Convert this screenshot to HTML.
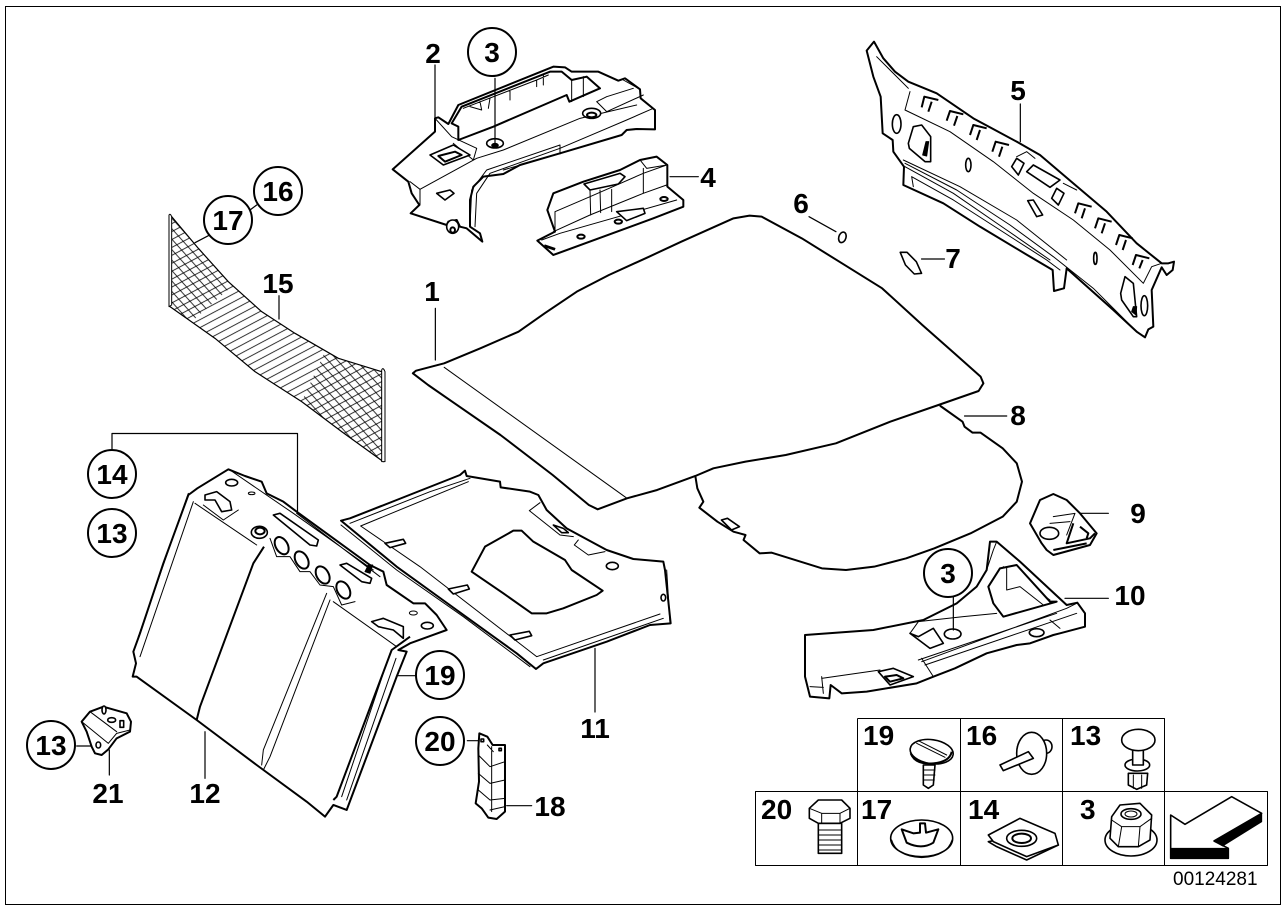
<!DOCTYPE html>
<html><head><meta charset="utf-8"><title>Diagram 00124281</title>
<style>
html,body{margin:0;padding:0;background:#fff;width:1287px;height:910px;overflow:hidden}
svg{display:block}
text{font-family:"Liberation Sans",sans-serif;font-weight:bold;font-size:28px;fill:#000;stroke:none;text-anchor:middle}
.o,.t,.l,.w,.b{vector-effect:non-scaling-stroke;stroke:#000;stroke-linejoin:round;stroke-linecap:round}
.o{fill:#fff;stroke-width:2}
.w{fill:#fff;stroke-width:1.6}
.h{fill:none;stroke:#000;stroke-width:2;vector-effect:non-scaling-stroke;stroke-linejoin:round}
.t{fill:none;stroke-width:1}
.l{fill:none;stroke-width:1.2}
.b{fill:#000;stroke-width:1}
.c{fill:#fff;stroke:#000;stroke-width:2}
</style></head><body>
<svg width="1287" height="910" viewBox="0 0 1287 910" xmlns="http://www.w3.org/2000/svg">
<defs>
<pattern id="p1" width="21" height="21" patternUnits="userSpaceOnUse" patternTransform="rotate(-28)"><line x1="0" y1="10" x2="21" y2="10" stroke="#000" stroke-width="2.4"/></pattern>
<pattern id="p2" width="21" height="21" patternUnits="userSpaceOnUse" patternTransform="rotate(48)"><line x1="0" y1="10" x2="21" y2="10" stroke="#000" stroke-width="2.4"/></pattern>
<clipPath id="netclip"><path d="M50 35L130 130L220 230L320 320L420 385L550 460L680 500L685 770L560 680L440 590L300 500L180 400L45 305Z"/></clipPath>
</defs>
<rect x="5.5" y="6.5" width="1275" height="898" fill="none" stroke="#000" stroke-width="1"/>

<!-- Part 8 + Part 1 -->
<g transform="translate(400,205) scale(.4018,.33333)">
<path class="o" d="M1345 603L1400 650L1405 665L1425 683L1445 683L1500 730L1535 775L1548 830L1535 890L1500 935L1420 985L1330 1030L1260 1060L1180 1085L1110 1095L1050 1090L925 1043L895 1045L855 1005L860 990L845 985L830 980L790 950L745 908L755 890L740 850L735 813"/>
<path class="w" d="M800 945L815 940L845 965L825 975Z"/>
<path class="o" d="M32 505L40 497L110 475L200 430L295 380L360 325L440 260L520 210L620 155L700 110L830 40L870 32L900 35L1000 100L1100 175L1200 250L1300 360L1380 445L1445 515L1452 535L1440 558L1340 600L1220 650L1085 715L960 750L860 770L780 790L735 813L640 855L565 880L492 913L470 900L380 810L250 690L130 590L70 540Z"/>
<path class="t" d="M110 487L565 880"/>
<path class="l" d="M88 310L88 465M1405 633L1510 633M1298 162L1355 162M1018 35L1085 80"/>
<ellipse class="w" cx="1101" cy="97" rx="9" ry="16" transform="rotate(12 1101 97)"/>
<path class="w" d="M1245 142L1262 142L1285 170L1298 205L1280 207L1258 180Z"/>
</g>

<!-- Part 2, 4 -->
<g transform="translate(380,30) scale(.33333)">
<path class="o" d="M165 265L175 262L205 282L235 225L520 110L555 112L575 125L655 125L715 152L735 145L780 178L782 205L825 240L825 298L770 297L740 300L725 315L540 370L420 405L370 432L310 440L280 470L270 510L270 590L300 610L307 635L260 595L240 590L230 570L205 575L200 585L92 550L118 525L95 490L85 455L38 418L165 305Z"/>
<path class="h" d="M245 230L215 280L235 290L235 330L340 290L560 195L568 215L660 175L620 140L575 150L545 125L510 125L245 230Z"/>
<path class="t" d="M90 455L120 478L120 525M120 478L290 385L370 360L600 265L770 225M270 590L275 480L320 420L540 345M285 590L290 490L330 430L540 355L740 270L820 235M370 420L540 370M540 345L540 372M250 235L470 150L505 135M270 230L305 240M300 215L305 240M330 205L325 235M390 180L390 210M470 150L470 170M490 135L490 165M165 265L215 320L290 355L280 390M220 340L280 390M575 150L575 215M610 140L610 200M680 200L650 215L680 245L790 195M680 200L760 175M730 150L780 178"/>
<path class="w" d="M150 375L220 345L270 375L190 405Z"/>
<path class="h" d="M175 378L225 365L245 375L195 395Z"/>
<path class="w" d="M170 490L210 480L222 490L195 510Z"/>
<ellipse class="w" cx="345" cy="340" rx="25" ry="14"/><ellipse class="b" cx="345" cy="346" rx="10" ry="6"/>
<ellipse class="w" cx="635" cy="250" rx="27" ry="15"/><ellipse class="h" cx="635" cy="255" rx="14" ry="7"/>
<ellipse class="w" cx="218" cy="590" rx="18" ry="20"/><ellipse class="h" cx="218" cy="600" rx="7" ry="8"/>
<path class="l" d="M165 105L165 265M345 145L345 340M870 440L955 440"/>
<!-- 4 -->
<path class="o" d="M472 632L525 605L502 540L520 490L610 455L720 420L780 390L830 380L862 405L862 470L910 510L910 530L820 565L520 675Z"/>
<path class="t" d="M525 605L525 545L630 500L790 430L860 405M780 390L800 415L860 405M790 415L790 490M630 480L632 555M660 480L662 548M695 478L695 545M520 605L630 555L790 490L860 465M485 630L540 610L890 510"/>
<path class="w" d="M612 462L720 430L735 440L715 462L630 480Z"/>
<path class="w" d="M710 545L790 535L795 550L740 572Z"/>
<ellipse class="h" cx="603" cy="620" rx="11" ry="6"/><ellipse class="h" cx="715" cy="575" rx="11" ry="6"/><ellipse class="h" cx="852" cy="507" rx="11" ry="6"/>
<path class="b" d="M495 645L525 655L523 660L493 650Z"/>
</g>

<!-- Part 5 -->
<g transform="translate(860,30) scale(.33333)">
<path class="o" d="M20 62L42 35L70 85L105 125L145 155L230 190L340 265L470 335L540 375L640 460L740 545L830 640L905 700L925 700L942 695L938 720L920 735L905 712L875 780L880 890L865 898L855 922L830 905L760 840L620 715L612 775L582 783L578 720L510 680L360 590L250 520L130 465L132 410L100 365L98 330L68 310L62 200L40 140Z"/>
<path class="t" d="M50 80L105 135L145 175M150 185L135 240L270 305L400 395L520 490L640 570L750 660L850 760L875 710L905 700M135 400L290 480L450 585L580 680L700 775L830 905M135 410L280 490L440 600L570 690M155 440L160 470M155 440L280 510L420 600L560 690L600 720M130 390L300 470L470 570L620 690"/>
<path class="h" d="M185 232L193 200L235 210M205 245L215 215M260 272L270 243L310 253M282 287L292 258M330 315L340 285L380 295M350 330L360 300M397 365L407 335L447 345M417 380L427 350M645 550L655 520L695 530M665 565L675 535M705 595L715 565L755 575M725 610L735 580M768 645L778 615L818 625M788 660L798 630M818 705L828 675L868 685M838 715L848 690"/>
<path class="t" d="M470 380L500 365L525 385M610 460L650 480"/>
<path class="w" d="M455 410L470 385L492 400L475 435Z"/>
<path class="w" d="M575 505L590 475L612 490L595 525Z"/>
<path class="w" d="M500 425L520 405L600 450L570 472Z"/>
<ellipse class="w" cx="110" cy="282" rx="13" ry="28"/><ellipse class="w" cx="325" cy="405" rx="8" ry="20"/><path class="w" d="M503 512L520 510L548 555L530 560Z"/><ellipse class="w" cx="706" cy="685" rx="5" ry="18"/><ellipse class="w" cx="853" cy="827" rx="10" ry="30"/>
<path class="w" d="M145 340L160 290L185 285L212 320L212 395L195 395L148 355Z"/><path class="b" d="M198 335L206 335L200 378L188 375Z"/>
<path class="w" d="M782 790L795 740L820 760L830 860L820 860L785 810Z"/><path class="b" d="M820 830L830 830L828 855L815 845Z"/>
<path class="l" d="M481 222L481 335"/>
</g>

<!-- Net 15 -->
<g transform="translate(155,205) scale(.33333)">
<g clip-path="url(#netclip)"><rect x="0" y="0" width="720" height="800" fill="url(#p1)"/><path d="M45 30L45 305L110 350L235 240Z" fill="url(#p2)"/><path d="M510 440L680 500L685 770L560 680L440 590Z" fill="url(#p2)"/></g>
<path class="l" d="M50 35L130 130L220 230L320 320L420 385L550 460L680 500M45 305L180 400L300 500L440 590L560 680L685 770"/>
<path class="t" style="fill:#fff" d="M42 30L42 305L50 300L50 35Q46 24 42 30ZM680 495L680 770L690 770L690 500Q684 485 680 495Z"/>
<path class="l" d="M120 113L160 92M372 272L372 342M285 15L305 0"/>
</g>
<path class="l" d="M112 449L112 433.5L297.5 433.5L297.5 513"/>

<!-- Part 12 -->
<g transform="translate(120,450) scale(.33333)">
<path class="o" d="M232 115L325 58L375 78L425 95L440 130L490 155L530 185L640 265L750 345L790 365L800 405L880 460L915 460L950 495L980 540L870 580L835 600L860 605L830 680L680 1080L640 1065L615 1100L560 1055L410 945L230 810L50 680L38 680L48 640L40 605L60 550L130 340L205 135Z"/>
<path class="t" d="M220 155L60 620M205 130L55 560M330 60L520 190L760 360M225 160L410 285M640 455L830 590M530 190L780 380M810 610L665 1040M828 625L680 1050M620 430L430 900L425 945M630 450L450 920L430 960M450 265L470 320L510 320L540 365L570 365L600 405L640 410L665 465L705 455M250 165L310 210L355 180"/>
<path class="h" d="M432 290L400 340L240 770L230 810M640 1050L650 1040L815 600L870 560"/>
<path class="w" d="M460 195L480 190L595 270L590 288L570 285Z"/>
<g><ellipse class="o" cx="485" cy="287" rx="18" ry="28" transform="rotate(-30 485 287)"/><ellipse class="o" cx="545" cy="330" rx="18" ry="28" transform="rotate(-30 545 330)"/><ellipse class="o" cx="608" cy="375" rx="18" ry="28" transform="rotate(-30 608 375)"/><ellipse class="o" cx="670" cy="420" rx="18" ry="28" transform="rotate(-30 670 420)"/></g>
<path class="w" d="M255 135L290 125L330 155L335 180L305 185L285 150L255 150Z"/>
<ellipse class="w" cx="418" cy="247" rx="24" ry="18"/><ellipse class="h" cx="420" cy="243" rx="14" ry="10"/>
<ellipse class="w" cx="335" cy="98" rx="18" ry="10"/><ellipse class="t" cx="395" cy="130" rx="10" ry="4"/>
<path class="w" d="M660 345L680 340L755 385L750 400L725 395Z"/><path class="b" d="M745 345L758 345L750 370L735 365Z"/>
<path class="w" d="M755 515L790 505L850 530L850 565L820 540L775 530Z"/>
<ellipse class="t" cx="880" cy="489" rx="12" ry="6"/><ellipse class="w" cx="922" cy="527" rx="18" ry="10"/>
<path class="l" d="M255 845L255 985M835 677L885 677"/>
</g>

<!-- Part 11 -->
<g transform="translate(330,460) scale(.33333)">
<path class="o" d="M33 182L60 175L200 120L390 45L405 32L410 48L510 65L512 82L600 95L625 105L650 150L710 205L830 270L910 297L1000 305L1005 330L1022 490L960 495L830 545L640 610L618 627L560 580L380 450L200 320Z"/>
<path class="t" d="M33 195L200 330L400 470L600 620M92 198L415 65M60 190L300 95L420 55M92 198L270 320L620 590L990 462M640 600L1000 475M1010 330L1020 490M630 128L598 152L690 225L730 230M745 240L733 255L775 285L825 275"/>
<path class="o" d="M425 335L465 260L550 212L575 212L610 245L705 300L725 330L818 392L800 405L700 445L650 460L605 460L520 400Z"/>
<path class="w" d="M165 250L220 238L227 250L180 263Z"/><path class="w" d="M355 387L412 375L418 387L370 402Z"/><path class="w" d="M540 525L598 514L605 527L555 540Z"/>
<path class="w" d="M670 195L700 205L715 218L695 218Z"/>
<ellipse class="w" cx="847" cy="318" rx="18" ry="11"/>
<ellipse class="w" cx="1000" cy="413" rx="7" ry="10"/>
<path class="l" d="M795 565L795 756"/>
</g>

<!-- Part 10, 9 -->
<g transform="translate(790,480) scale(.33333)">
<path class="o" d="M45 465L250 450L400 420L500 370L560 320L590 270L600 185L620 185L690 245L830 375L862 368L885 400L885 440L810 460L790 465L720 490L680 495L590 520L495 565L430 590L380 610L230 635L155 640L122 615L118 655L60 650L45 590Z"/>
<path class="t" d="M598 200L590 270L610 210L620 185M520 410L620 400M360 460L385 425L520 410M385 540L800 400M395 545L830 385L860 370M405 555L860 400M395 535L430 590M95 590L100 640M95 595L270 570M60 620L100 622M780 420L810 445M640 260L780 360"/>
<path class="o" d="M595 320L630 265L680 255L780 365L800 365L640 410L610 370Z"/>
<path class="t" d="M650 260L650 330L690 320L760 375"/>
<path class="w" d="M360 460L420 505L460 490L430 445L385 470Z"/>
<ellipse class="w" cx="488" cy="462" rx="25" ry="15"/>
<path class="w" d="M265 575L310 565L370 590L300 615Z"/><path class="h" d="M285 590L320 585L340 595L300 605Z"/>
<ellipse class="w" cx="740" cy="458" rx="22" ry="12"/>
<path class="l" d="M490 350L490 450M825 355L955 355"/>
<!-- 9 -->
<path class="o" d="M750 60L790 42L830 60L870 100L920 160L900 195L790 225L770 210L755 190L720 130Z"/>
<ellipse class="w" cx="778" cy="160" rx="28" ry="18"/>
<path class="t" d="M790 110L855 100L830 165M780 130L840 125"/>
<path class="h" d="M850 130L830 190L900 175L915 160M790 210L890 190M870 140L895 160L890 175"/>
<path class="l" d="M870 100L955 100"/>
</g>

<!-- Part 21 -->
<g transform="translate(20,690) scale(.33333)">
<path class="o" d="M185 95L210 65L250 50L320 70L333 95L330 125L290 145L265 178L245 195L225 190L215 170L200 125Z"/>
<path class="t" d="M185 95L265 160L290 130L330 120M210 65L290 125"/>
<ellipse class="w" cx="252" cy="60" rx="6" ry="12"/><ellipse class="w" cx="275" cy="90" rx="12" ry="7"/><rect class="w" x="300" y="92" width="11" height="20"/>
<ellipse class="w" cx="235" cy="165" rx="7" ry="9"/>
<path class="l" d="M170 168L215 168M268 180L268 255"/>
</g>
<!-- Part 18 -->
<g transform="translate(410,715) scale(.33333)">
<path class="o" d="M208 55L232 65L248 90L285 90L285 290L260 312L235 308L215 280L197 265L207 200L205 100Z"/>
<path class="t" d="M245 95L245 290M205 120L240 155L285 140M205 175L240 205L285 195M205 225L240 255L285 250M232 90L250 110M240 285L285 275"/>
<rect class="w" x="213" y="72" width="8" height="8"/><rect class="w" x="267" y="100" width="7" height="7"/>
<path class="l" d="M172 77L205 77M290 272L365 272"/>
</g>

<!-- Table -->
<path class="t" style="stroke-linecap:butt" d="M857.5 718.5H1164.5V865.5H755.5V791.5H1164.5M857.5 718.5V865.5M960.5 718.5V865.5M1062.5 718.5V865.5M1164.5 791.5H1267.5V865.5H1164.5"/>
<g transform="translate(750,710) scale(.33333)">
<!-- screw 19 -->
<path class="w" d="M520 165L520 225L535 235L550 225L555 165Z"/><path class="t" d="M520 180L555 180M520 195L555 195M520 210L553 210"/>
<ellipse class="w" cx="545" cy="125" rx="65" ry="36" transform="rotate(8 545 125)"/>
<path class="t" d="M505 92L590 135M500 100L585 142"/>
<path class="h" d="M482 130Q495 165 550 160Q600 155 605 125"/>
<!-- 16 -->
<ellipse class="w" cx="888" cy="110" rx="18" ry="20"/>
<ellipse class="w" cx="845" cy="130" rx="45" ry="63"/>
<path class="w" d="M750 165L835 125L850 145L760 182Z"/>
<!-- 13 -->
<path class="w" d="M1135 190L1135 225L1160 238L1190 225L1193 190Z"/><path class="t" d="M1150 195L1150 235M1175 195L1175 235"/>
<ellipse class="w" cx="1162" cy="165" rx="37" ry="18"/>
<path class="w" d="M1148 110L1148 165L1180 165L1180 110Z"/>
<ellipse class="w" cx="1165" cy="90" rx="50" ry="32"/>
<!-- bolt 20 -->
<path class="w" d="M205 340L205 430L275 430L275 340Z"/><path class="t" d="M205 360H275M205 375H275M205 390H275M205 405H275M205 420H275"/>
<path class="w" d="M178 295L205 270L275 270L300 295L300 325L270 340L205 340L178 325Z"/>
<path class="t" d="M178 295L215 310L270 310L300 295M215 310L215 340M270 310L270 340"/>
<!-- 17 -->
<ellipse class="w" cx="515" cy="385" rx="93" ry="55"/>
<path class="t" d="M425 390Q440 440 515 443Q590 440 606 390"/>
<path class="h" d="M470 398L455 358L490 370L510 368L510 340L525 340L528 368L565 358L550 398Q515 420 470 398Z"/>
<!-- 14 -->
<path class="w" d="M715 395L740 410L830 450L925 405L830 425L740 390Z"/>
<path class="w" d="M715 375L810 325L915 370L925 405L830 440L730 395Z"/>
<ellipse class="w" cx="815" cy="385" rx="45" ry="24"/><ellipse class="h" cx="815" cy="385" rx="28" ry="14"/>
<!-- nut 3 -->
<ellipse class="w" cx="1143" cy="390" rx="78" ry="48"/>
<path class="w" d="M1085 320L1110 285L1170 280L1205 315L1200 390L1165 410L1105 410L1080 385Z"/>
<path class="t" d="M1085 330L1115 350L1170 350L1205 325M1115 350L1105 410M1170 350L1165 410"/>
<ellipse class="w" cx="1143" cy="312" rx="30" ry="16"/><ellipse class="t" cx="1143" cy="312" rx="18" ry="9"/>
<!-- arrow -->
<path class="w" d="M1262 315L1305 343L1445 260L1535 310L1392 393L1435 415L1435 445L1262 445Z"/>
<path class="b" d="M1262 415L1435 415L1435 445L1262 445Z"/>
<path class="b" d="M1535 310L1535 335L1418 408L1392 393Z"/>
</g>

<!-- Callout circles -->
<g>
<circle class="c" cx="492" cy="52" r="24"/><circle class="c" cx="278" cy="191" r="24"/><circle class="c" cx="228" cy="220" r="24"/>
<circle class="c" cx="112" cy="474" r="24"/><circle class="c" cx="112" cy="533" r="24"/><circle class="c" cx="948" cy="573" r="24"/>
<circle class="c" cx="440" cy="675" r="24"/><circle class="c" cx="440" cy="741" r="24"/><circle class="c" cx="51" cy="745" r="24"/>
</g>
<!-- Labels -->
<g>
<text x="433" y="63">2</text><text x="492" y="62">3</text><text x="708" y="187">4</text><text x="1018" y="100">5</text>
<text x="801" y="213">6</text><text x="953" y="268">7</text><text x="1018" y="425">8</text><text x="1138" y="523">9</text>
<text x="1130" y="605">10</text><text x="595" y="738">11</text><text x="205" y="803">12</text><text x="51" y="755">13</text>
<text x="108" y="803">21</text><text x="550" y="816">18</text><text x="440" y="751">20</text><text x="440" y="685">19</text>
<text x="112" y="484">14</text><text x="112" y="543">13</text><text x="278" y="201">16</text><text x="228" y="230">17</text>
<text x="278" y="293">15</text><text x="432" y="301">1</text><text x="948" y="583">3</text>
<g>
<text x="863" y="745" style="text-anchor:start">19</text><text x="966" y="745" style="text-anchor:start">16</text><text x="1070" y="745" style="text-anchor:start">13</text>
<text x="761" y="819" style="text-anchor:start">20</text><text x="861" y="819" style="text-anchor:start">17</text><text x="968" y="819" style="text-anchor:start">14</text><text x="1080" y="819" style="text-anchor:start">3</text>
</g>
<text x="1173" y="885" style="text-anchor:start;font-weight:normal;font-size:19px">00124281</text>
</g>
</svg>
</body></html>
